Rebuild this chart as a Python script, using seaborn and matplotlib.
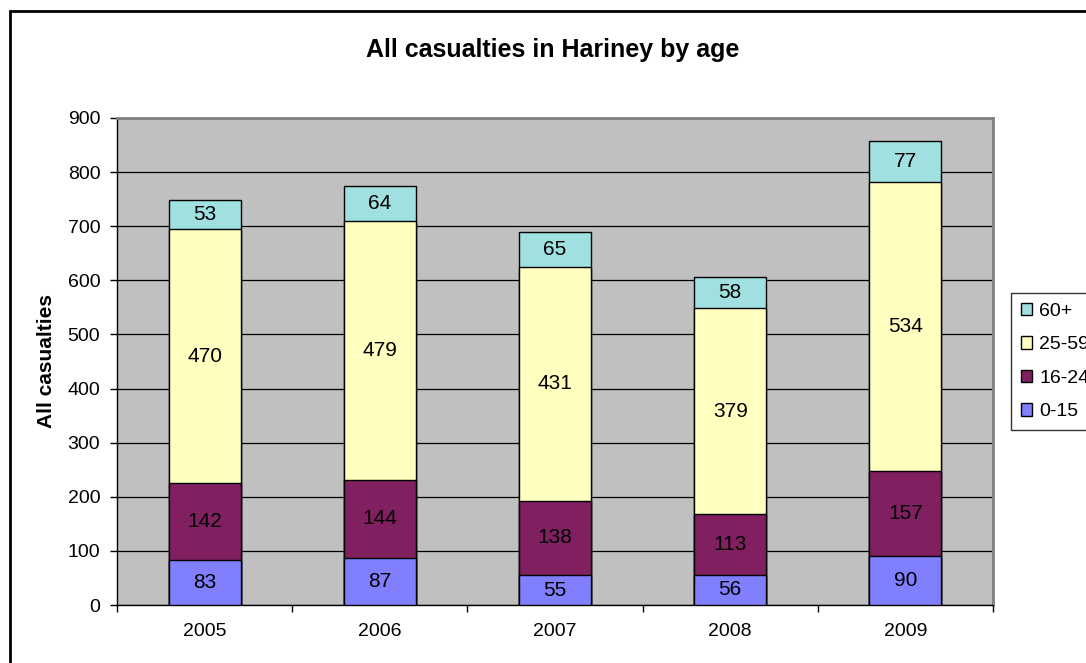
import matplotlib
matplotlib.use("Agg")
import matplotlib.pyplot as plt
from matplotlib.patches import Patch, Rectangle
import numpy as np
import pandas as pd
import seaborn as sns

years = ["2005", "2006", "2007", "2008", "2009"]
age_0_15 = [83, 87, 55, 56, 90]
age_16_24 = [142, 144, 138, 113, 157]
age_25_59 = [470, 479, 431, 379, 534]
age_60_plus = [53, 64, 65, 58, 77]

groups = ["0-15", "16-24", "25-59", "60+"]
colors = {"0-15": "#8080FF", "16-24": "#802060", "25-59": "#FFFFC0", "60+": "#A0E0E0"}

sns.set_style("white")
plt.rcParams["font.family"] = ["Liberation Sans", "DejaVu Sans"]
plt.rcParams.update({"text.color": "black", "axes.labelcolor": "black",
                     "xtick.color": "black", "ytick.color": "black"})

values = np.array([age_0_15, age_16_24, age_25_59, age_60_plus])
cum = np.cumsum(values, axis=0)

W, H = 1086, 663
fig = plt.figure(figsize=(W / 100, H / 100), dpi=100)
ax = fig.add_axes([117 / W, 1 - 605 / H, (993 - 117) / W, (605 - 118) / H])
ax.set_facecolor("#C0C0C0")

# stacked bars: draw cumulative totals from the top segment down
for i in range(len(groups) - 1, -1, -1):
    df = pd.DataFrame({"year": years, "total": cum[i]})
    sns.barplot(data=df, x="year", y="total", color=colors[groups[i]],
                saturation=1, width=0.41, edgecolor="black", linewidth=1.0,
                ax=ax, zorder=3)

# segment value labels
for j in range(len(years)):
    for i in range(len(groups)):
        lo = cum[i, j] - values[i, j]
        ax.text(j, lo + values[i, j] / 2, str(values[i, j]), ha="center",
                va="center", fontsize=15, color="black", zorder=5)

ax.set_ylim(0, 900)
ax.set_xlim(-0.5, len(years) - 0.5)
ax.set_yticks(np.arange(0, 901, 100))
ax.yaxis.grid(True, color="black", linewidth=0.9, zorder=1)
ax.set_axisbelow(True)

ax.set_xticks(range(len(years)))
ax.set_xticklabels(years)
ax.set_xticks(np.arange(-0.5, len(years), 1.0), minor=True)
ax.tick_params(axis="x", which="major", length=0, pad=13, labelsize=14)
ax.tick_params(axis="x", which="minor", length=5, width=1, direction="out", color="black", bottom=True)
ax.tick_params(axis="y", length=5, width=1, direction="out", color="black", left=True, labelsize=14, pad=7)

ax.set_xlabel("")
ax.set_ylabel("All casualties", fontsize=15, fontweight="bold")
ax.yaxis.set_label_coords((56 - 117) / (993 - 117), 0.5)

for side in ("left", "bottom"):
    ax.spines[side].set_color("black")
    ax.spines[side].set_linewidth(1.0)
for side in ("top", "right"):
    ax.spines[side].set_color("#808080")
    ax.spines[side].set_linewidth(2.0)

fig.text(553 / W, 1 - 50 / H, "All casualties in Hariney by age",
         ha="center", va="center", fontsize=18, fontweight="bold")

handles = [Patch(facecolor=colors[g], edgecolor="black", linewidth=1.0, label=g)
           for g in reversed(groups)]
leg = fig.legend(handles=handles, loc="upper left",
                 bbox_to_anchor=(1011 / W, 1 - 293 / H),
                 frameon=True, fontsize=14, handlelength=0.6, handleheight=0.6,
                 handletextpad=0.35, labelspacing=0.85, borderpad=0.5,
                 fancybox=False, borderaxespad=0)
leg.get_frame().set_edgecolor("black")
leg.get_frame().set_linewidth(1.0)

# chart border
fig.patches.append(Rectangle((10 / W, -0.1), 1.2, 1 - 11 / H + 0.1,
                             transform=fig.transFigure, fill=False,
                             edgecolor="black", linewidth=2.0))

fig.savefig("out.png", dpi=100)
